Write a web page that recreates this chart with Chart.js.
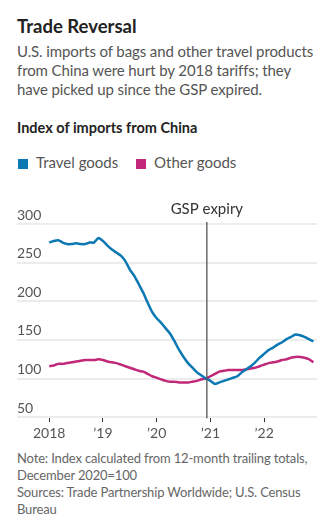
<!DOCTYPE html>
<html lang="en">
<head>
    <meta charset="UTF-8">
    <title>Trade Reversal</title>
    <script src="https://cdn.jsdelivr.net/npm/chart.js"></script>
    <style>
        body {
            margin: 0;
            padding: 0;
            background: #fff;
            font-family: Lato, "Noto Sans", sans-serif;
        }
        .wrap {
            position: relative;
            width: 334px;
            height: 526px;
            overflow: hidden;
        }
        .title {
            position: absolute;
            left: 17px;
            top: 15px;
            font-size: 18.5px;
            font-weight: bold;
            color: #222;
        }
        .sub {
            position: absolute;
            left: 17px;
            top: 42px;
            font-size: 15px;
            letter-spacing: -0.1px;
            line-height: 19px;
            color: #555;
        }
        .head {
            position: absolute;
            left: 17px;
            top: 119px;
            font-size: 14.5px;
            font-weight: bold;
            color: #222;
        }
        .legend {
            position: absolute;
            left: 18px;
            top: 153px;
            font-size: 15px;
            color: #555;
        }
        .legend span.sw {
            display: inline-block;
            width: 10px;
            height: 10px;
            margin-right: 8px;
            vertical-align: -1px;
        }
        .legend span.item {
            margin-right: 14px;
        }
        #chart {
            position: absolute;
            left: 0;
            top: 190px;
        }
        .note {
            position: absolute;
            left: 17px;
            top: 450px;
            font-size: 13px;
            letter-spacing: -0.15px;
            line-height: 17px;
            color: #666;
        }
    </style>
</head>
<body>
<div class="wrap">
    <div class="title">Trade Reversal</div>
    <div class="sub">U.S. imports of bags and other travel products<br>from China were hurt by 2018 tariffs; they<br>have picked up since the GSP expired.</div>
    <div class="head">Index of imports from China</div>
    <div class="legend">
        <span class="item"><span class="sw" style="background:#0b77b3"></span>Travel goods</span>
        <span class="item"><span class="sw" style="background:#c1287a"></span>Other goods</span>
    </div>
    <canvas id="chart" width="334" height="255"></canvas>
    <div class="note">Note: Index calculated from 12-month trailing totals,<br>December 2020=100<br>Sources: Trade Partnership Worldwide; U.S. Census<br>Bureau</div>
</div>
<script>
// monthly, Jan 2018 .. Dec 2022 (index 0..59)
const travelGoods = [
    276, 278, 279, 276, 274, 274, 275, 274, 274, 276, 276, 282,
    278, 272, 267, 263, 259, 252, 241, 233, 222, 211, 198, 186,
    178, 172, 165, 158, 148, 137, 128, 120, 114, 108, 104, 100,
    97, 93, 95, 97, 99, 101, 103, 108, 112, 116, 121, 127,
    132, 137, 140, 144, 147, 151, 154, 157, 156, 154, 151, 148
];
const otherGoods = [
    116, 117, 119, 119, 120, 121, 122, 123, 124, 124, 124, 125,
    124, 122, 121, 120, 118, 116, 114, 112, 110, 109, 106, 103,
    101, 99, 97, 96, 96, 95, 95, 95, 96, 97, 99, 100,
    103, 106, 109, 110, 111, 111, 111, 111, 112, 113, 114, 116,
    118, 120, 121, 122, 124, 125, 127, 128, 128, 127, 125, 121
];
const yearTicks = [0, 12, 24, 36, 48];
const yearLabels = ['2018', '\u201919', '\u201920', '\u201921', '\u201922'];
const yTicks = [50, 100, 150, 200, 250, 300];
const gspMonth = 35.2;
const gspLabel = 'GSP expiry';

const BLUE = '#0b77b3';
const PINK = '#c1287a';

const toPoints = arr => arr.map((v, i) => ({ x: i, y: v }));

const gspPlugin = {
    id: 'gsp',
    afterDatasetsDraw(chart) {
        const ctx = chart.ctx;
        const x = chart.scales.x.getPixelForValue(gspMonth);
        const area = chart.chartArea;
        ctx.save();
        ctx.strokeStyle = '#555';
        ctx.lineWidth = 1.3;
        ctx.beginPath();
        ctx.moveTo(x, area.top - 2);
        ctx.lineTo(x, area.bottom + 1);
        ctx.stroke();
        ctx.fillStyle = '#333';
        ctx.font = '15px Lato, "Noto Sans", sans-serif';
        ctx.textAlign = 'center';
        ctx.textBaseline = 'alphabetic';
        ctx.fillText(gspLabel, x, area.top - 10);
        ctx.restore();
    }
};

new Chart(document.getElementById('chart'), {
    type: 'line',
    data: {
        datasets: [
            {
                label: 'Travel goods',
                data: toPoints(travelGoods),
                borderColor: BLUE,
                borderWidth: 2.5,
                pointRadius: 0,
                tension: 0.2
            },
            {
                label: 'Other goods',
                data: toPoints(otherGoods),
                borderColor: PINK,
                borderWidth: 2.5,
                pointRadius: 0,
                tension: 0.2
            }
        ]
    },
    options: {
        responsive: false,
        animation: false,
        layout: { padding: { left: 17, right: 17, top: 34, bottom: 0 } },
        plugins: { legend: { display: false }, tooltip: { enabled: false } },
        scales: {
            x: {
                type: 'linear',
                min: -7.2,
                max: 59.8,
                afterBuildTicks: axis => { axis.ticks = yearTicks.map(v => ({ value: v })); },
                ticks: {
                    callback: (v) => yearLabels[yearTicks.indexOf(v)],
                    color: '#555',
                    font: { family: 'Lato, "Noto Sans", sans-serif', size: 14 },
                    padding: 3,
                    maxRotation: 0
                },
                grid: { drawOnChartArea: false, drawTicks: true, tickLength: 5, color: '#333' },
                border: { display: false }
            },
            y: {
                min: 50,
                max: 300,
                afterBuildTicks: axis => { axis.ticks = yTicks.map(v => ({ value: v })); },
                ticks: {
                    mirror: true,
                    padding: 0,
                    labelOffset: -9,
                    color: '#555',
                    font: { family: 'Lato, "Noto Sans", sans-serif', size: 14 }
                },
                grid: { color: '#ececec', lineWidth: 2, drawTicks: false },
                border: { display: false }
            }
        }
    },
    plugins: [gspPlugin]
});
</script>
</body>
</html>
